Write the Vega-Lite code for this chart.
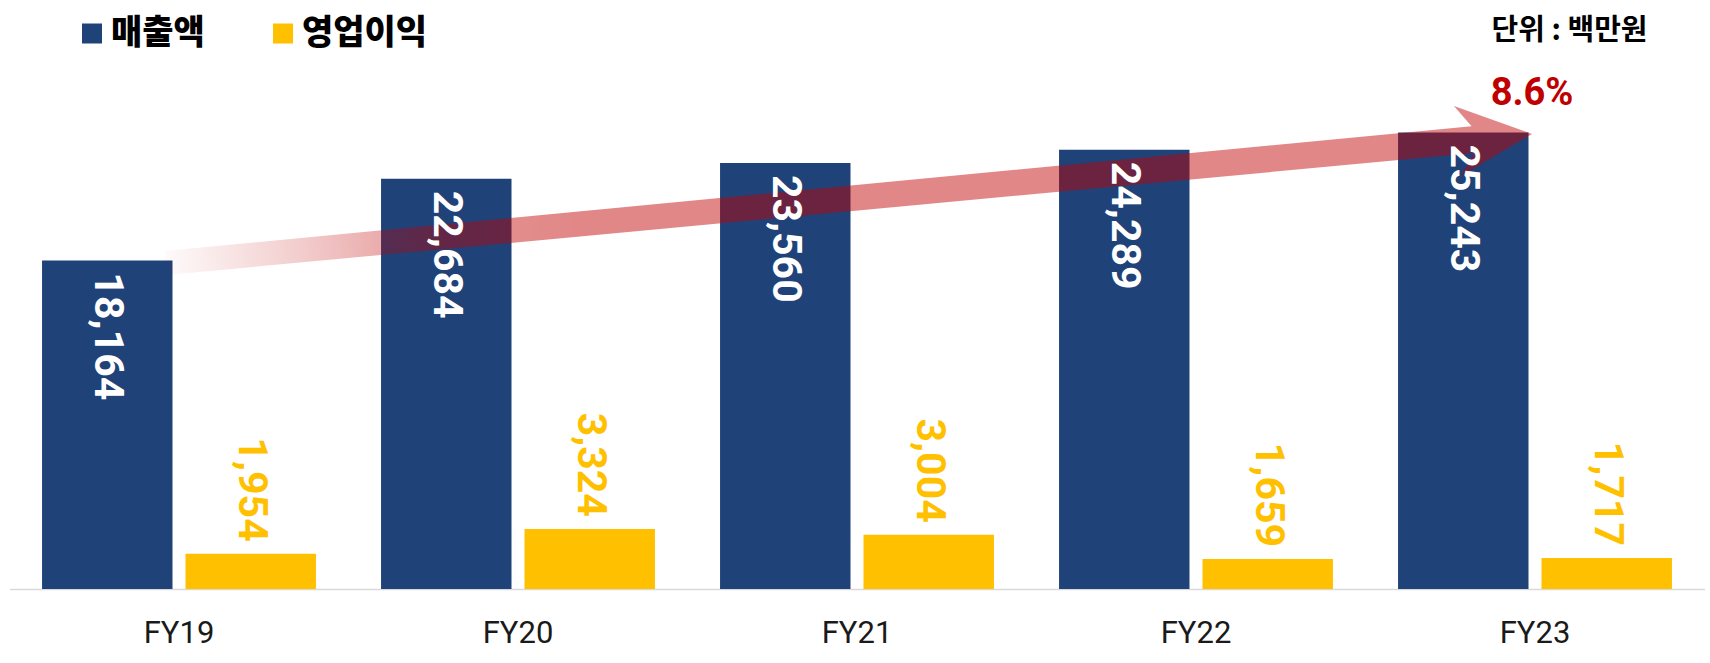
{
  "$schema": "https://vega.github.io/schema/vega-lite/v6.json",
  "width": 1695,
  "height": 519,
  "autosize": "none",
  "padding": {"left": 9.5, "top": 70, "right": 5.5, "bottom": 74},
  "background": "white",
  "title": {
    "text": "단위 : 백만원",
    "anchor": "end",
    "orient": "top",
    "frame": "group",
    "font": "Noto Sans CJK KR",
    "fontSize": 29,
    "fontWeight": "bold",
    "color": "#000000",
    "baseline": "alphabetic",
    "dx": -57,
    "offset": -52
  },
  "datasets": {
    "main": [
      {"year": "FY19", "series": "매출액", "value": 18164},
      {"year": "FY19", "series": "영업이익", "value": 1954},
      {"year": "FY20", "series": "매출액", "value": 22684},
      {"year": "FY20", "series": "영업이익", "value": 3324},
      {"year": "FY21", "series": "매출액", "value": 23560},
      {"year": "FY21", "series": "영업이익", "value": 3004},
      {"year": "FY22", "series": "매출액", "value": 24289},
      {"year": "FY22", "series": "영업이익", "value": 1659},
      {"year": "FY23", "series": "매출액", "value": 25243},
      {"year": "FY23", "series": "영업이익", "value": 1717}
    ],
    "arrow": [
      {"year": "FY21", "value": 21636}
    ],
    "growth": [
      {"year": "FY23", "value": 26764, "label": "8.6%"}
    ]
  },
  "config": {
    "view": {"stroke": null},
    "legend": {
      "orient": "none",
      "legendX": 65.5,
      "legendY": -53.5,
      "direction": "horizontal",
      "symbolType": "square",
      "symbolSize": 400,
      "symbolStrokeWidth": 0,
      "labelFont": "Noto Sans CJK KR",
      "labelFontSize": 34,
      "labelFontWeight": 900,
      "labelColor": "#000000",
      "labelOffset": 2,
      "columnPadding": 61,
      "padding": 0,
      "labelLimit": 400
    }
  },
  "layer": [
    {
      "data": {"name": "main"},
      "mark": {"type": "bar"},
      "encoding": {
        "x": {
          "field": "year", "type": "nominal",
          "scale": {"paddingInner": 0.192, "paddingOuter": 0.096},
          "axis": {
            "title": null, "labelAngle": 0, "ticks": false, "grid": false,
            "domainColor": "#D9D9D9", "domainWidth": 1.5,
            "labelFont": "Roboto", "labelFontSize": 31, "labelColor": "#1a1a1a",
            "labelPadding": 29
          }
        },
        "xOffset": {"field": "series", "type": "nominal", "scale": {"paddingInner": 0.0906, "paddingOuter": 0}},
        "y": {"field": "value", "type": "quantitative", "scale": {"domain": [0, 28700], "nice": false, "zero": true}, "axis": null},
        "color": {
          "field": "series", "type": "nominal",
          "scale": {"domain": ["매출액", "영업이익"], "range": ["#1F4279", "#FFC000"]},
          "legend": {"title": null}
        }
      }
    },
    {
      "data": {"name": "arrow"},
      "mark": {
        "type": "point",
        "filled": true,
        "shape": "M-0.9915,-0.0171L0.8837,-0.0193L0.8613,-0.0504L0.9686,0L0.8613,0.0504L0.8837,0.0193L-0.9915,0.0171Z",
        "size": 1960000,
        "angle": 354.605,
        "strokeWidth": 0,
        "opacity": 1,
        "fill": {
          "gradient": "linear",
          "x1": 0, "y1": 0, "x2": 1, "y2": 0,
          "stops": [
            {"offset": 0, "color": "rgba(192,0,0,0.02)"},
            {"offset": 0.1, "color": "rgba(192,0,0,0.2)"},
            {"offset": 0.2, "color": "rgba(192,0,0,0.42)"},
            {"offset": 0.3, "color": "rgba(192,0,0,0.47)"},
            {"offset": 1, "color": "rgba(192,0,0,0.47)"}
          ]
        }
      },
      "encoding": {
        "x": {"field": "year", "type": "nominal"},
        "y": {"field": "value", "type": "quantitative", "scale": {"domain": [0, 28700], "nice": false, "zero": true}}
      }
    },
    {
      "data": {"name": "main"},
      "transform": [{"filter": "datum.series === '매출액'"}],
      "mark": {
        "type": "text", "angle": 90, "align": "left", "baseline": "middle", "dx": 12,
        "font": "Roboto", "fontSize": 41, "fontWeight": "bold", "fill": "#FFFFFF"
      },
      "encoding": {
        "x": {"field": "year", "type": "nominal"},
        "xOffset": {"field": "series", "type": "nominal"},
        "y": {"field": "value", "type": "quantitative"},
        "text": {"field": "value", "type": "quantitative", "format": ",d"}
      }
    },
    {
      "data": {"name": "main"},
      "transform": [{"filter": "datum.series === '영업이익'"}],
      "mark": {
        "type": "text", "angle": 90, "align": "right", "baseline": "middle", "dx": -12,
        "font": "Roboto", "fontSize": 41, "fontWeight": "bold", "fill": "#FFC000"
      },
      "encoding": {
        "x": {"field": "year", "type": "nominal"},
        "xOffset": {"field": "series", "type": "nominal"},
        "y": {"field": "value", "type": "quantitative"},
        "text": {"field": "value", "type": "quantitative", "format": ",d"}
      }
    },
    {
      "data": {"name": "growth"},
      "mark": {
        "type": "text", "align": "center", "baseline": "alphabetic", "dx": -3,
        "font": "Roboto", "fontSize": 38, "fontWeight": "bold", "fill": "#C00000"
      },
      "encoding": {
        "x": {"field": "year", "type": "nominal"},
        "y": {"field": "value", "type": "quantitative"},
        "text": {"field": "label", "type": "nominal"}
      }
    }
  ]
}
